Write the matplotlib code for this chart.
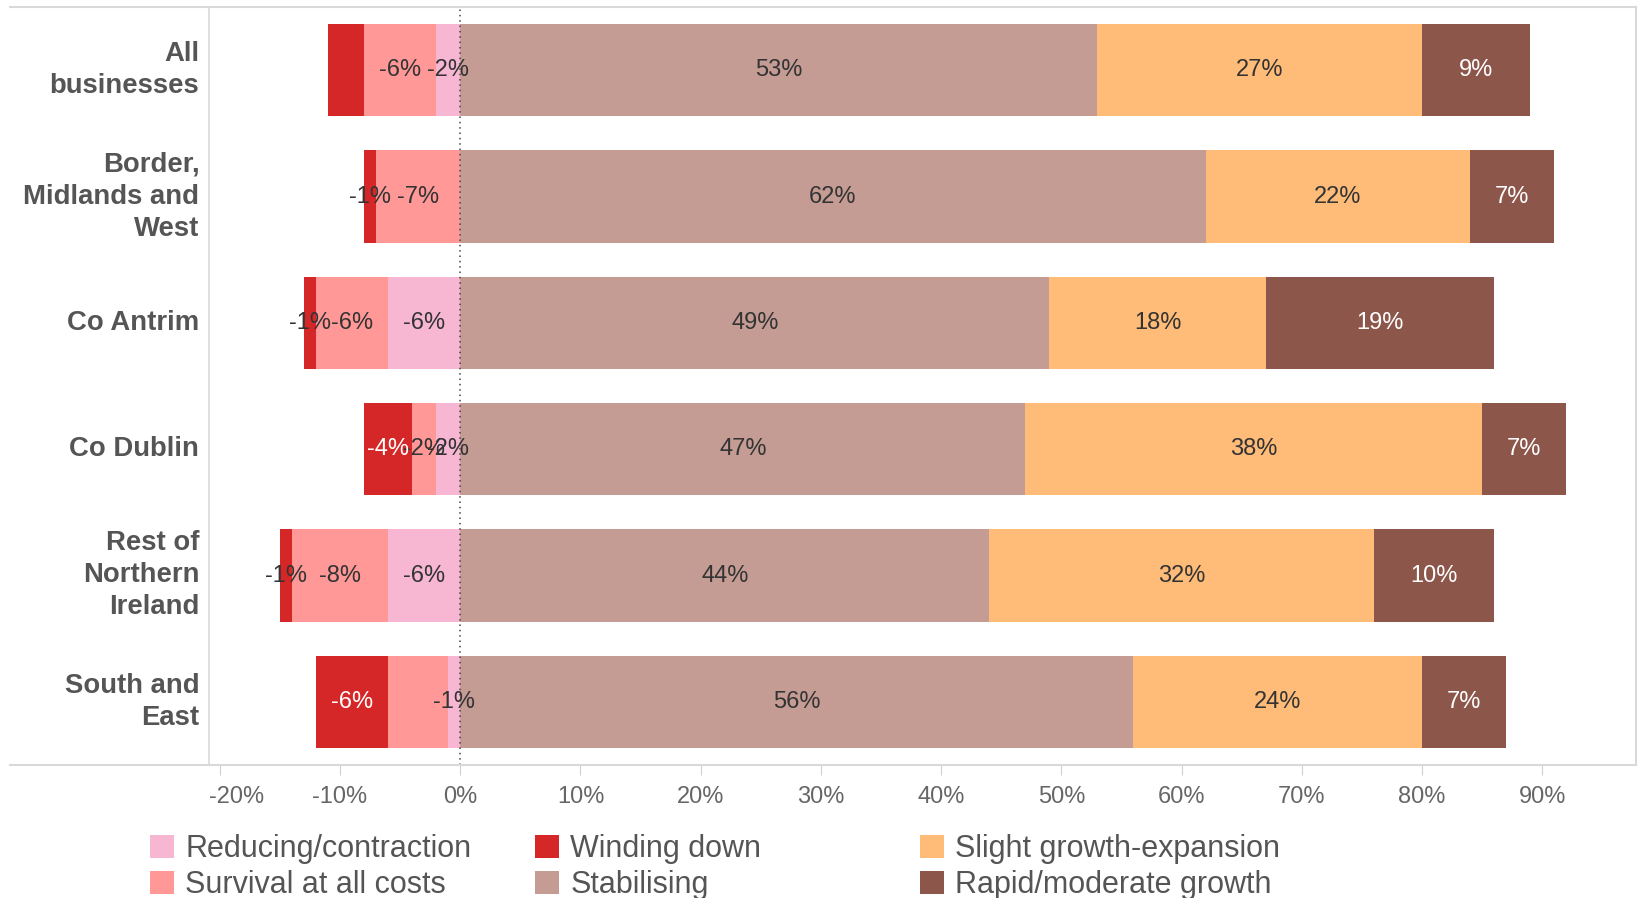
import matplotlib
matplotlib.use("Agg")
import matplotlib.pyplot as plt
from matplotlib.lines import Line2D
from matplotlib.patches import Patch
from matplotlib.transforms import ScaledTranslation

# Regions (top to bottom) and the share of businesses in each outlook category (%)
regions = ["All\nbusinesses", "Border,\nMidlands and\nWest", "Co Antrim",
           "Co Dublin", "Rest of\nNorthern\nIreland", "South and\nEast"]
reducing = [2, 0, 6, 2, 6, 1]
survival = [6, 7, 6, 2, 8, 5]
winding = [3, 1, 1, 4, 1, 6]
stabilising = [53, 62, 49, 47, 44, 56]
slight_growth = [27, 22, 18, 38, 32, 24]
rapid_growth = [9, 7, 19, 7, 10, 7]

# Which segment values are printed on the bars
show_reducing = [True, False, True, True, True, True]
show_survival = [True, True, True, True, True, False]
show_winding = [False, True, True, True, True, True]

xticks = [-20, -10, 0, 10, 20, 30, 40, 50, 60, 70, 80, 90]
xtick_labels = [f"{t}%" for t in xticks]

C_REDUCING = "#f7b6d2"
C_SURVIVAL = "#ff9896"
C_WINDING = "#d62728"
C_STABIL = "#c49c94"
C_SLIGHT = "#ffbb78"
C_RAPID = "#8c564b"

plt.rcParams["font.family"] = ["Liberation Sans", "DejaVu Sans"]

W, H = 1639, 898
fig = plt.figure(figsize=(W / 100, H / 100), dpi=100)
ax = fig.add_axes([209 / W, 1 - 765 / H, (1636 - 209) / W, (765 - 7) / H])

ys = list(range(len(regions)))
h = 0.73
DARK_TXT = "#333333"


def seg_label(x, y, text, color):
    ax.text(x, y, text, ha="center", va="center", fontsize=17, color=color)


for i, y in enumerate(ys):
    # negative side: reducing nearest zero, then survival, then winding down
    left = 0.0
    for val, col, show, dark_bg in [
        (reducing[i], C_REDUCING, show_reducing[i], False),
        (survival[i], C_SURVIVAL, show_survival[i], False),
        (winding[i], C_WINDING, show_winding[i], True),
    ]:
        if val > 0:
            ax.barh(y, -val, left=left, height=h, color=col, linewidth=0)
            if show:
                tcol = "white" if (dark_bg and val > 1) else DARK_TXT
                seg_label(left - val / 2, y, f"-{val}%", tcol)
        left -= val
    # positive side
    start = 0.0
    for val, col, tcol in [
        (stabilising[i], C_STABIL, DARK_TXT),
        (slight_growth[i], C_SLIGHT, DARK_TXT),
        (rapid_growth[i], C_RAPID, "white"),
    ]:
        ax.barh(y, val, left=start, height=h, color=col, linewidth=0)
        seg_label(start + val / 2, y, f"{val}%", tcol)
        start += val

ax.axvline(0, color="#444444", linewidth=1.1, linestyle=(0, (1, 2.5)), zorder=3)

ax.set_xlim(-20.9, 97.8)
ax.set_ylim(len(regions) - 0.5, -0.5)
ax.set_xticks(xticks)
ax.set_xticklabels(xtick_labels, fontsize=17, color="#666666")
ax.tick_params(axis="x", length=7, color="#d0d0d0", pad=8)
ax.set_yticks(ys)
ax.set_yticklabels(regions, fontsize=19.8, fontweight="bold", color="#555555",
                   linespacing=1.3, va="center")
ax.tick_params(axis="y", length=0, pad=7)
for s in ["top", "right", "bottom"]:
    ax.spines[s].set_visible(False)
ax.spines["left"].set_color("#d9d9d9")
ax.spines["left"].set_linewidth(1.2)

# the leftmost tick label is nudged inside the axis area
first = ax.get_xticklabels()[0]
first.set_transform(first.get_transform() + ScaledTranslation(0.17, 0, fig.dpi_scale_trans))

# outer frame lines spanning the label column
for yy in [7, 765]:
    fig.add_artist(Line2D([10 / W, 1636 / W], [1 - yy / H, 1 - yy / H],
                          color="#d9d9d9", linewidth=1.5))
fig.add_artist(Line2D([1636 / W, 1636 / W], [1 - 7 / H, 1 - 765 / H],
                      color="#d9d9d9", linewidth=1.5))

# legend: three fixed-width columns of two entries
legend_cols = [
    [(C_REDUCING, "Reducing/contraction"), (C_SURVIVAL, "Survival at all costs")],
    [(C_WINDING, "Winding down"), (C_STABIL, "Stabilising")],
    [(C_SLIGHT, "Slight growth-expansion"), (C_RAPID, "Rapid/moderate growth")],
]
col_x = [150, 535, 920]
for cx, entries in zip(col_x, legend_cols):
    handles = [Patch(facecolor=c, label=l) for c, l in entries]
    leg = fig.legend(handles=handles, loc="center left",
                     bbox_to_anchor=(cx / W, 1 - 867 / H), frameon=False,
                     fontsize=22, handlelength=0.8, handleheight=0.8,
                     handletextpad=0.35, labelspacing=0.2,
                     borderpad=0, borderaxespad=0)
    for t in leg.get_texts():
        t.set_color("#555555")

fig.savefig("out.png", dpi=100, facecolor="white")
